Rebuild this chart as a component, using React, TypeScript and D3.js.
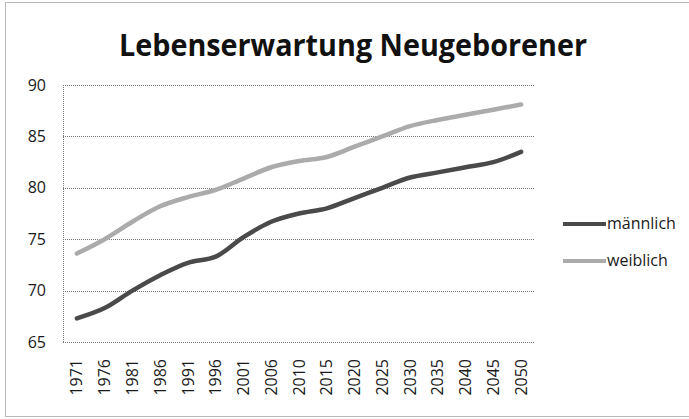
import React, { useEffect, useRef } from 'react';
import * as d3 from 'd3';

const years = ['1971', '1976', '1981', '1986', '1991', '1996', '2001', '2006', '2010', '2015', '2020', '2025', '2030', '2035', '2040', '2045', '2050'];
const maennlich = [67.3, 68.3, 70.0, 71.5, 72.7, 73.3, 75.2, 76.7, 77.5, 78.0, 79.0, 80.0, 81.0, 81.5, 82.0, 82.5, 83.5];
const weiblich = [73.6, 75.0, 76.7, 78.2, 79.1, 79.8, 80.9, 82.0, 82.6, 83.0, 84.0, 85.0, 86.0, 86.6, 87.1, 87.6, 88.1];
const yTicks = [65, 70, 75, 80, 85, 90];
const seriesNames = ['männlich', 'weiblich'];
const seriesColors = ['#4a4a4a', '#ababab'];

const App = () => {
  const ref = useRef<SVGSVGElement>(null);

  useEffect(() => {
    const width = 689;
    const height = 419;
    const margin = { top: 85, right: 154, bottom: 77, left: 63 };
    const font = '"Open Sans", "Noto Sans", sans-serif';

    const svg = d3.select(ref.current);
    svg.selectAll('*').remove();

    // outer chart frame
    svg
      .append('rect')
      .attr('x', 5.5)
      .attr('y', 2.5)
      .attr('width', width)
      .attr('height', 414)
      .attr('fill', '#fff')
      .attr('stroke', '#777')
      .attr('stroke-dasharray', '1,1');

    svg
      .append('text')
      .attr('x', 353)
      .attr('y', 56)
      .attr('text-anchor', 'middle')
      .attr('font-family', font)
      .attr('font-weight', 'bold')
      .attr('font-size', 30)
      .attr('fill', '#111')
      .attr('textLength', 468)
      .attr('lengthAdjust', 'spacingAndGlyphs')
      .text('Lebenserwartung Neugeborener');

    const x = d3
      .scaleBand()
      .domain(years)
      .range([margin.left, width - margin.right]);

    const y = d3
      .scaleLinear()
      .domain([65, 90])
      .range([height - margin.bottom, margin.top]);

    const grid = svg.append('g');
    grid
      .selectAll('line')
      .data(yTicks)
      .enter()
      .append('line')
      .attr('x1', margin.left)
      .attr('x2', width - margin.right)
      .attr('y1', (d) => Math.round(y(d)) + 0.5)
      .attr('y2', (d) => Math.round(y(d)) + 0.5)
      .attr('stroke', '#777')
      .attr('stroke-dasharray', '1,1');

    grid
      .append('line')
      .attr('x1', margin.left + 0.5)
      .attr('x2', margin.left + 0.5)
      .attr('y1', margin.top)
      .attr('y2', height - margin.bottom)
      .attr('stroke', '#777')
      .attr('stroke-dasharray', '1,1');

    svg
      .append('g')
      .selectAll('text')
      .data(yTicks)
      .enter()
      .append('text')
      .attr('x', 46)
      .attr('y', (d) => y(d))
      .attr('dy', '0.35em')
      .attr('text-anchor', 'end')
      .attr('font-family', font)
      .attr('font-size', 16)
      .attr('fill', '#1a1a1a')
      .text((d) => d);

    svg
      .append('g')
      .selectAll('text')
      .data(years)
      .enter()
      .append('text')
      .attr('transform', (d) => `translate(${x(d)! + x.bandwidth() / 2},359) rotate(-90)`)
      .attr('dy', '0.35em')
      .attr('text-anchor', 'end')
      .attr('font-family', font)
      .attr('font-size', 16)
      .attr('fill', '#1a1a1a')
      .text((d) => d);

    const line = d3
      .line<number>()
      .x((_, i) => x(years[i])! + x.bandwidth() / 2)
      .y((d) => y(d))
      .curve(d3.curveCatmullRom);

    [maennlich, weiblich].forEach((s, i) => {
      svg
        .append('path')
        .attr('d', line(s))
        .attr('fill', 'none')
        .attr('stroke', seriesColors[i])
        .attr('stroke-width', 4.5)
        .attr('stroke-linecap', 'round');
    });

    const legend = svg
      .append('g')
      .selectAll('g')
      .data(seriesNames)
      .enter()
      .append('g')
      .attr('transform', (_, i) => `translate(563,${224 + i * 37})`);

    legend
      .append('line')
      .attr('x1', 0)
      .attr('x2', 43)
      .attr('stroke', (_, i) => seriesColors[i])
      .attr('stroke-width', 4);

    legend
      .append('text')
      .attr('x', 44)
      .attr('dy', '0.32em')
      .attr('font-family', font)
      .attr('font-size', 16)
      .attr('fill', '#1a1a1a')
      .text((d) => d);
  }, []);

  return (
    <svg
      ref={ref}
      width={689}
      height={419}
      style={{ position: 'absolute', left: 0, top: 0, display: 'block' }}
    />
  );
};

export default App;
